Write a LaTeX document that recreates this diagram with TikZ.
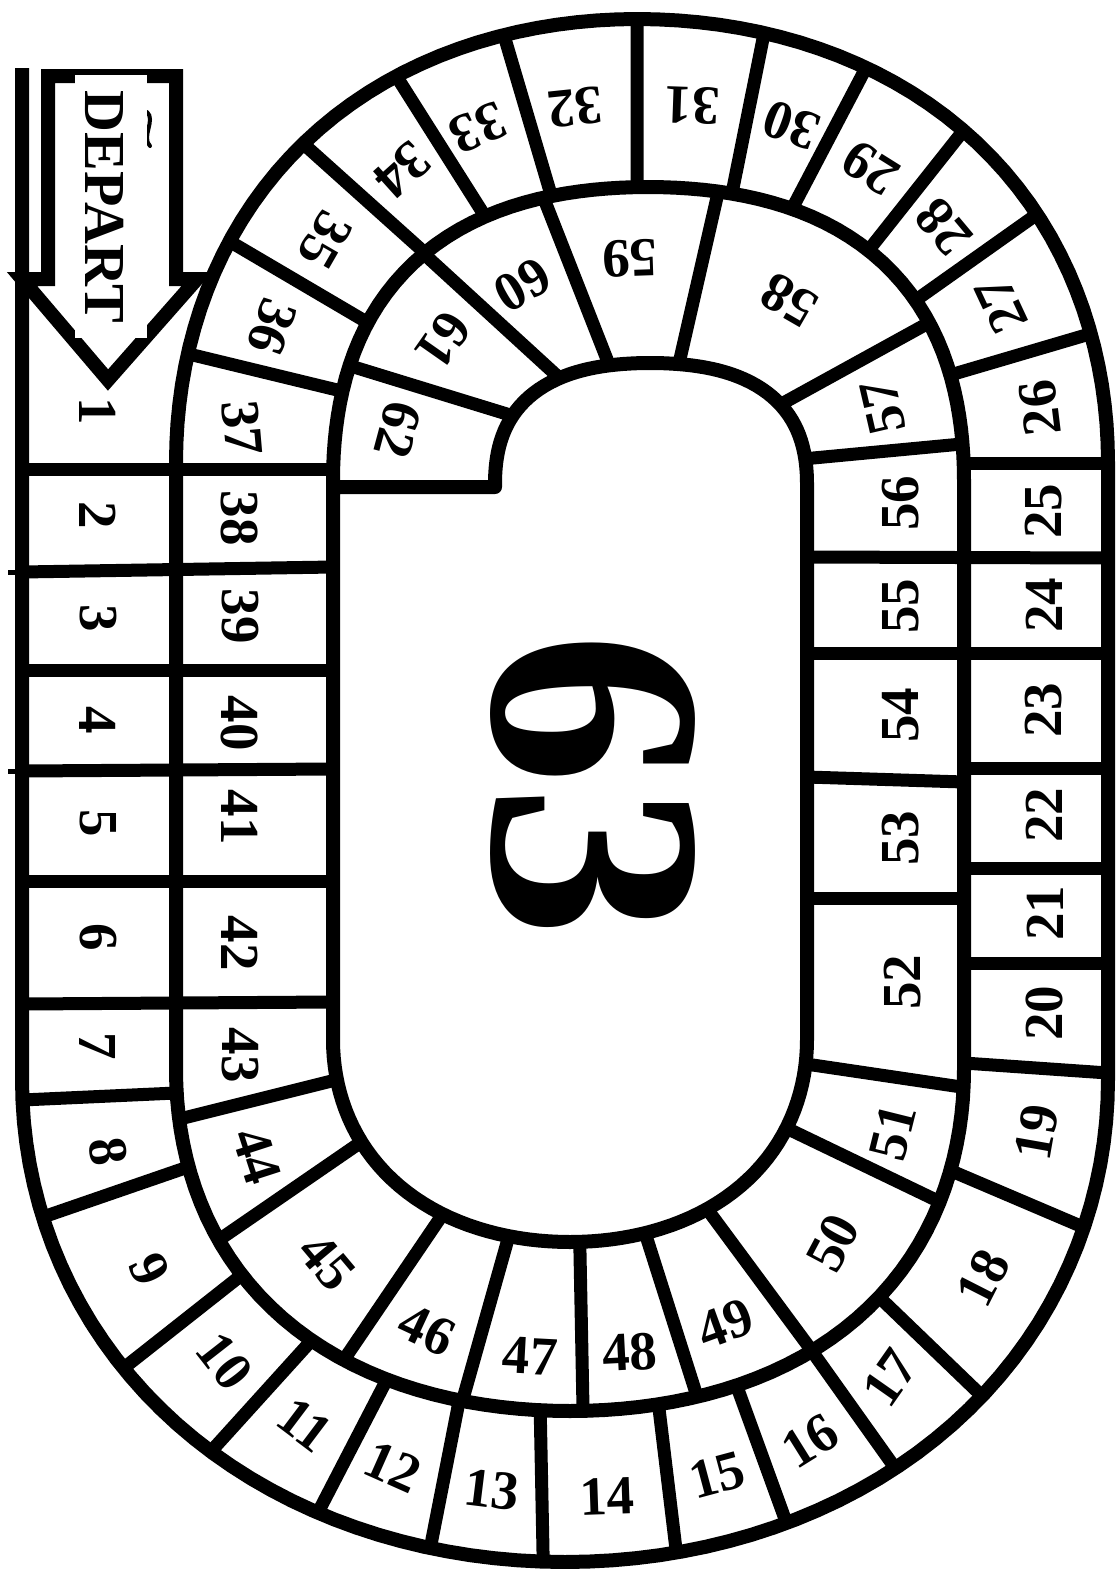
\documentclass[tikz,border=0pt]{standalone}
\usepackage{fontspec}
\setmainfont{Liberation Serif}
% curve parameters: cx, cy, rx right, rx left, ry, squareness, sign (1 bottom, -1 top)
\newcommand\setcv[7]{\def\cvcx{#1}\def\cvcy{#2}\def\cvrR{#3}\def\cvrL{#4}\def\cvry{#5}\def\cva{#6}\def\cvs{#7}}
\newcommand\cvpt[3]{%
  \pgfmathsetmacro\cvr{(#2>\cvcx)?\cvrR:\cvrL}%
  \pgfmathsetmacro\cvt{atan2(\cvs*(#3-\cvcy)/\cvry,(#2-\cvcx)/\cvr)}%
  \pgfmathsetmacro\cvf{1+\cva*sin(2*\cvt)*sin(2*\cvt)}%
  \pgfmathsetmacro\cvx{\cvcx+\cvr*cos(\cvt)*\cvf}%
  \pgfmathsetmacro\cvy{\cvcy+\cvs*\cvry*sin(\cvt)*\cvf}%
  \coordinate (#1) at (\cvx,\cvy);}
\newcommand\cvOB{\setcv{565}{1080}{543}{543}{482}{0.01}{1}}
\newcommand\cvOT{\setcv{637}{462}{471}{461}{443}{0.02}{-1}}
\newcommand\cvMB{\setcv{570}{1070}{394}{394}{341}{0.03}{1}}
\newcommand\cvMT{\setcv{648}{480}{316}{315}{293}{0.05}{-1}}
\newcommand\cvIB{\setcv{570}{1040}{237}{237}{202}{0.02}{1}}
\newcommand\cvIT{\setcv{650}{483}{157}{155}{120}{0.06}{-1}}
\newcommand\dvl[7]{#1\cvpt{#7a}{#2}{#3}#4\cvpt{#7b}{#5}{#6}\draw[dv] (#7a) -- (#7b);}
\begin{document}
\begin{tikzpicture}[x=1pt,y=-1pt,
  bd/.style={line width=14pt, line join=round},
  dv/.style={line width=13pt},
  num/.style={font=\fontsize{55}{55}\selectfont\bfseries, inner sep=0pt}]
\useasboundingbox (0,0) rectangle (1116,1569);
\fill[white] (0,0) rectangle (1116,1569);
% the spiral track boundary
\draw[bd] (22,68) -- (22,1080)
 -- plot[domain=0:180,samples=73] ({565-543*cos(\x)*(1+0.01*sin(2*\x)*sin(2*\x))},{1080+482*sin(\x)*(1+0.01*sin(2*\x)*sin(2*\x))})
 -- (1108,462)
 -- plot[domain=0:90,samples=37] ({637+471*cos(\x)*(1+0.02*sin(2*\x)*sin(2*\x))},{462-443*sin(\x)*(1+0.02*sin(2*\x)*sin(2*\x))})
 -- plot[domain=90:180,samples=37] ({637+461*cos(\x)*(1+0.02*sin(2*\x)*sin(2*\x))},{462-443*sin(\x)*(1+0.02*sin(2*\x)*sin(2*\x))})
 -- (176,1070)
 -- plot[domain=0:180,samples=73] ({570-394*cos(\x)*(1+0.03*sin(2*\x)*sin(2*\x))},{1070+341*sin(\x)*(1+0.03*sin(2*\x)*sin(2*\x))})
 -- (964,480)
 -- plot[domain=0:90,samples=37] ({648+316*cos(\x)*(1+0.05*sin(2*\x)*sin(2*\x))},{480-293*sin(\x)*(1+0.05*sin(2*\x)*sin(2*\x))})
 -- plot[domain=90:180,samples=37] ({648+315*cos(\x)*(1+0.05*sin(2*\x)*sin(2*\x))},{480-293*sin(\x)*(1+0.05*sin(2*\x)*sin(2*\x))})
 -- (333,1040)
 -- plot[domain=0:180,samples=73] ({570-237*cos(\x)*(1+0.02*sin(2*\x)*sin(2*\x))},{1040+202*sin(\x)*(1+0.02*sin(2*\x)*sin(2*\x))})
 -- (807,483)
 -- plot[domain=0:90,samples=37] ({650+157*cos(\x)*(1+0.06*sin(2*\x)*sin(2*\x))},{483-120*sin(\x)*(1+0.06*sin(2*\x)*sin(2*\x))})
 -- plot[domain=90:180,samples=37] ({650+155*cos(\x)*(1+0.06*sin(2*\x)*sin(2*\x))},{483-120*sin(\x)*(1+0.06*sin(2*\x)*sin(2*\x))})
 -- (495,487) -- (333,487);
% straight dividers, left side
\draw[dv] (22,469) -- (333,469);
\draw[dv] (22,572) -- (333,567);
\draw[dv] (22,670) -- (333,670);
\draw[dv] (22,771) -- (333,769);
\draw[dv] (22,881) -- (333,881);
\draw[dv] (22,1004) -- (333,1002);
\draw[dv] (22,1100) -- (176,1093);
\draw[line width=5pt] (8,572) -- (22,572) (8,771) -- (22,771);
% straight dividers, right side
\draw[dv] (964,1063) -- (1108,1073);
\draw[dv] (964,963) -- (1108,963);
\draw[dv] (964,868) -- (1108,868);
\draw[dv] (964,768) -- (1108,768);
\draw[dv] (807,653) -- (1108,653);
\draw[dv] (807,557) -- (1108,558);
\draw[dv] (964,463) -- (1108,463);
\draw[dv] (807,898) -- (964,898);
\draw[dv] (807,777) -- (964,782);
% curved parts, outer track
\dvl\cvOB{47}{1216}\cvMB{180}{1169}{p8}
\dvl\cvOB{133}{1362}\cvMB{240}{1276}{p9}
\dvl\cvOB{220}{1442}\cvMB{310}{1342}{p10}
\dvl\cvOB{320}{1509}\cvMB{383}{1386}{p11}
\dvl\cvOB{430}{1549}\cvMB{457}{1407}{p12}
\dvl\cvOB{543}{1565}\cvMB{540}{1412}{p13}
\dvl\cvOB{677}{1555}\cvMB{660}{1410}{p14}
\dvl\cvOB{783}{1516}\cvMB{740}{1392}{p15}
\dvl\cvOB{890}{1462}\cvMB{811}{1350}{p16}
\dvl\cvOB{974}{1390}\cvMB{879}{1297}{p17}
\dvl\cvOB{1086}{1228}\cvMB{956}{1172}{p18}
\dvl\cvOT{1093}{333}\cvMT{956}{373}{p26}
\dvl\cvOT{1039}{213}\cvMT{916}{300}{p27}
\dvl\cvOT{961}{133}\cvMT{866}{253}{p28}
\dvl\cvOT{863}{73}\cvMT{793}{207}{p29}
\dvl\cvOT{763}{37}\cvMT{733}{190}{p30}
\dvl\cvOT{637}{23}\cvMT{637}{187}{p31}
\dvl\cvOT{507}{45}\cvMT{550}{192}{p32}
\dvl\cvOT{405}{90}\cvMT{483}{213}{p33}
\dvl\cvOT{313}{153}\cvMT{427}{255}{p34}
\dvl\cvOT{240}{247}\cvMT{363}{320}{p35}
\dvl\cvOT{193}{355}\cvMT{345}{392}{p36}
% curved parts, inner track
\dvl\cvMB{180}{1119}\cvIB{335}{1080}{q43}
\dvl\cvMB{227}{1236}\cvIB{353}{1146}{q44}
\dvl\cvMB{350}{1352}\cvIB{437}{1222}{q45}
\dvl\cvMB{463}{1399}\cvIB{507}{1242}{q46}
\dvl\cvMB{583}{1409}\cvIB{580}{1246}{q47}
\dvl\cvMB{693}{1386}\cvIB{651}{1248}{q48}
\dvl\cvMB{800}{1337}\cvIB{716}{1220}{q49}
\dvl\cvMB{929}{1198}\cvIB{796}{1132}{q50}
\dvl\cvMB{956}{1087}\cvIB{816}{1065}{q51}
\dvl\cvMT{953}{445}\cvIT{810}{458}{q56}
\dvl\cvMT{916}{330}\cvIT{783}{403}{q57}
\dvl\cvMT{717}{197}\cvIT{683}{347}{q58}
\dvl\cvMT{547}{207}\cvIT{603}{347}{q59}
\dvl\cvMT{427}{257}\cvIT{550}{367}{q60}
\dvl\cvMT{353}{367}\cvIT{507}{413}{q61}
% start arrow
\draw[line width=14pt, line join=miter] (48,76) -- (176,76) -- (176,279) -- (197,279) -- (108,380) -- (22,279) -- (48,279) -- cycle;
\draw[line width=4pt, line cap=round] (147,112) .. controls (156,120) and (141,137) .. (150,146);
\fill[white] (75,75) rectangle (147,338);
\node[rotate=-90, font=\fontsize{58}{58}\selectfont\bfseries, inner sep=0pt] (depart) at (105,207) {DEPART};
% big goal number
\node[rotate=-90, font=\fontsize{305}{305}\selectfont\bfseries, inner sep=0pt] (goal) at (593,785) {63};
% square numbers
\foreach \n/\px/\py/\r in {
 1/98/411/-90, 2/98/515/-90, 3/98/618/-90, 4/98/720/-90, 5/98/823/-90, 6/98/937/-90, 7/98/1046/-90,
 8/108/1152/-82, 9/150/1269/-65, 10/225/1361/-52, 11/305/1425/-37, 12/393/1467/-24, 13/492/1490/-7,
 14/607/1496/2, 15/717/1475/15, 16/810/1441/32, 17/890/1378/55, 18/983/1278/63, 19/1037/1132/80,
 20/1044/1013/90, 21/1045/913/90, 22/1044/815/90, 23/1044/710/90, 24/1044/605/90, 25/1044/511/90,
 26/1040/408/97, 27/1001/305/115, 28/944/227/130, 29/871/168/148, 30/791/125/160, 31/692/105/178,
 32/575/107/186, 33/478/128/203, 34/402/170/222, 35/325/240/240, 36/272/327/250, 37/242/428/-85,
 38/240/518/-90, 39/240/616/-90, 40/240/723/-90, 41/240/817/-90, 42/240/943/-90, 43/240/1055/-90,
 44/257/1156/-72, 45/327/1262/-50, 46/427/1330/-25, 47/530/1356/-3, 48/630/1352/3, 49/725/1324/20,
 50/833/1243/62, 51/893/1132/76, 52/903/982/90, 53/901/838/90, 54/901/715/90, 55/901/606/90,
 56/901/503/90, 57/883/407/103, 58/789/300/150, 59/630/258/182, 60/523/285/210, 61/443/340/235,
 62/398/430/255}
 \node[num, rotate=\r] (sq\n) at (\px,\py) {\n};
\end{tikzpicture}
\end{document}
